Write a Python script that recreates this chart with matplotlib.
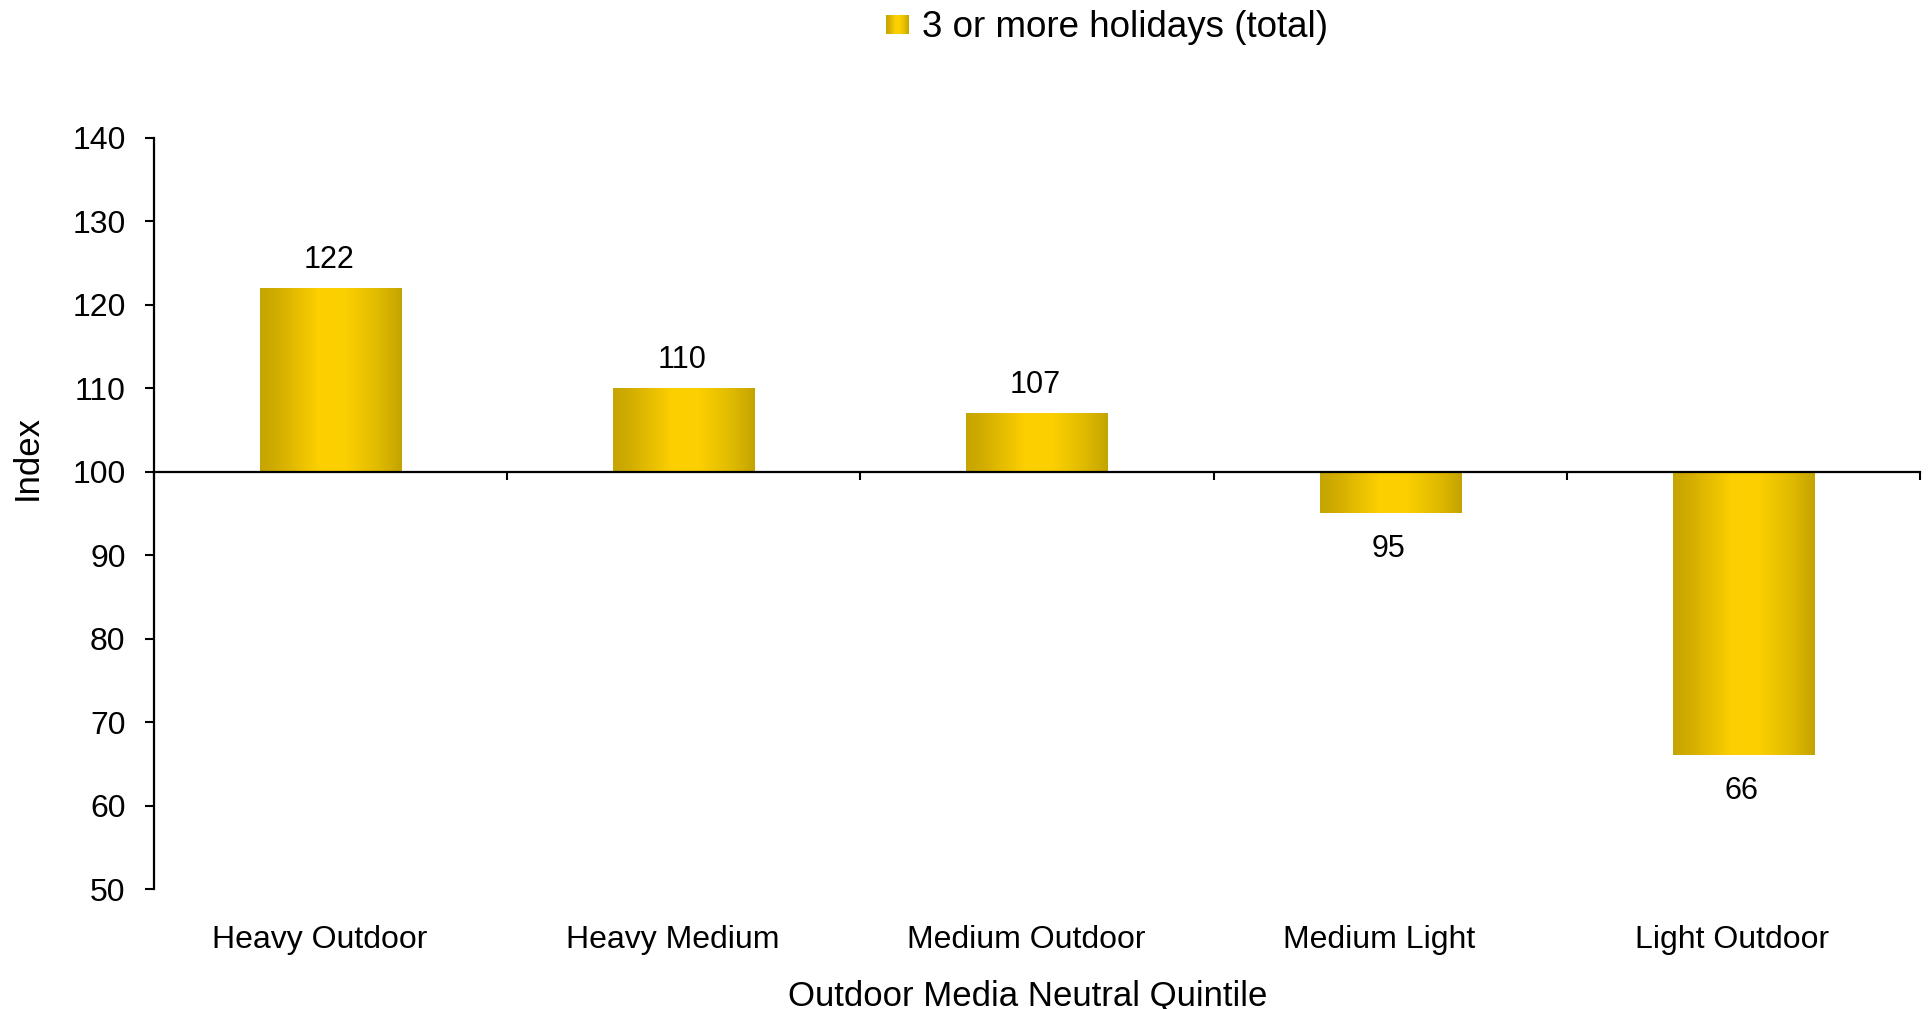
import matplotlib
matplotlib.use("Agg")
import matplotlib.pyplot as plt
import numpy as np
from matplotlib.colors import LinearSegmentedColormap

plt.rcParams['font.family'] = ['Liberation Sans', 'DejaVu Sans']

categories = ["Heavy Outdoor", "Heavy Medium", "Medium Outdoor", "Medium Light", "Light Outdoor"]
index_values = [122, 110, 107, 95, 66]
series_name = "3 or more holidays (total)"
baseline = 100

# gold gradient across each bar: dark edges, bright middle
gold = LinearSegmentedColormap.from_list(
    "gold",
    [(0.0, "#c6a500"), (0.12, "#d2ad00"), (0.42, "#fdd000"),
     (0.6, "#fcd000"), (0.85, "#deb900"), (1.0, "#c3a300")])
grad = np.linspace(0, 1, 256).reshape(1, -1)

fig = plt.figure(figsize=(19.30, 10.09), dpi=100)
ax = fig.add_axes([0.0798, 0.1189, 0.9150, 0.7446])

x = np.arange(len(categories))
heights = [v - baseline for v in index_values]
bars = ax.bar(x, heights, width=0.40, bottom=baseline, color="none", edgecolor="none")
for patch in bars:
    x0, y0 = patch.get_x(), patch.get_y()
    w, h = patch.get_width(), patch.get_height()
    im = ax.imshow(grad, cmap=gold, aspect="auto", interpolation="bicubic",
                   extent=[x0, x0 + w, y0, y0 + h], zorder=2)
    im.set_clip_path(patch)

# value labels
for xi, v in zip(x, index_values):
    if v >= baseline:
        ax.annotate(str(v), (xi, v), xytext=(-1.5, 14.5), textcoords="offset points",
                    ha="center", va="baseline", fontsize=22)
    else:
        ax.annotate(str(v), (xi, v), xytext=(-1.5, -15), textcoords="offset points",
                    ha="center", va="top", fontsize=22)

ax.set_xlim(-0.5, len(categories) - 0.5)
ax.set_ylim(50, 140)
ax.set_yticks(np.arange(50, 141, 10))
ax.tick_params(axis="y", labelsize=23, length=6.5, width=1.5, pad=14)

# horizontal axis line sits on the 100 baseline, ticks between categories
for side in ("top", "right"):
    ax.spines[side].set_visible(False)
ax.spines["bottom"].set_position(("data", baseline))
ax.spines["bottom"].set_linewidth(1.6)
ax.spines["left"].set_linewidth(1.6)
ax.set_xticks(np.arange(-0.5, len(categories), 1.0))
ax.tick_params(axis="x", labelbottom=False, length=6, width=1.5, direction="out")

for xi, name in zip(x, categories):
    ax.annotate(name, (xi, 0), xycoords=("data", "axes fraction"),
                xytext=(-8, -37), textcoords="offset points",
                ha="center", va="center", fontsize=23)
ax.annotate("Outdoor Media Neutral Quintile", (0.5, 0), xycoords="axes fraction",
            xytext=(-7, -77), textcoords="offset points",
            ha="center", va="center", fontsize=25)

fig.text(0.014, 0.547, "Index", rotation=90, ha="center", va="center", fontsize=25)

# legend: gradient swatch plus label
lax = fig.add_axes([0.459, 0.9660, 0.0119, 0.0188])
lax.imshow(grad, cmap=gold, aspect="auto", interpolation="bicubic")
lax.axis("off")
fig.text(0.4777, 0.9725, series_name, ha="left", va="center", fontsize=26.5)

plt.savefig("out.png", dpi=100)
